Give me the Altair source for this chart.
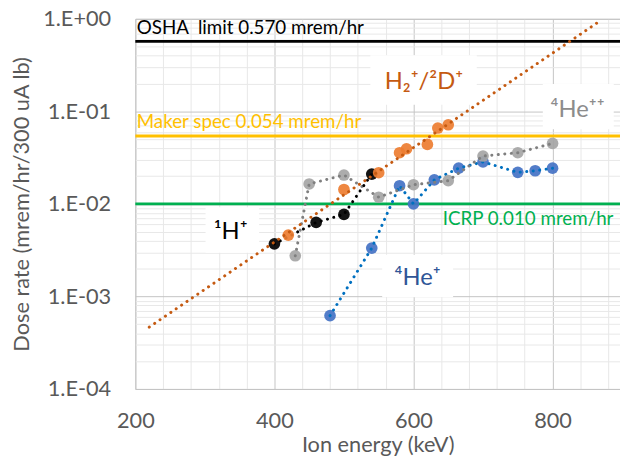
import altair as alt
import pandas as pd

# ---------------- data ----------------
h1_energy = [400, 460, 500, 540]
h1_dose = [0.0037, 0.0063, 0.0077, 0.021]

h2_energy = [420, 500, 550, 580, 590, 620, 635, 650]
h2_dose = [0.0046, 0.0143, 0.0217, 0.0357, 0.0394, 0.0439, 0.066, 0.0716]

he2_energy = [430, 450, 500, 550, 600, 650, 700, 750, 800]
he2_dose = [0.00275, 0.0164, 0.0205, 0.0118, 0.0161, 0.0178, 0.0329, 0.0357, 0.045]

he1_energy = [480, 540, 580, 600, 630, 665, 700, 750, 775, 800]
he1_dose = [0.00062, 0.00333, 0.0157, 0.0100, 0.0182, 0.0243, 0.0284, 0.0219, 0.0228, 0.0243]

# exponential trendline of the H2+/2D+ series (end points)
trend_energy = [220, 870]
trend_dose = [0.000466, 0.968]

limit_names = ["OSHA\u00a0 limit 0.570 mrem/hr", "Maker spec 0.054 mrem/hr", "ICRP 0.010 mrem/hr"]
limit_values = [0.570, 0.054, 0.010]
limit_colors = ["#000000", "#FFC000", "#00B050"]
limit_label_x = [202, 202, 642]
limit_label_y = [0.80, 0.0775, 0.0068]

series_labels = ["H\u2082\u207a/\u00b2D\u207a", "\u2074He\u207a\u207a", "\u00b9H\u207a", "\u2074He\u207a"]
label_colors = ["#C55A11", "#8C8C8C", "#000000", "#2F5597"]
label_x = [615, 836, 337, 606]
label_y = [0.208, 0.1044, 0.00497, 0.00157]
box_x = [538, 786, 301, 555]
box_x2 = [691, 888, 378, 657]
box_y = [0.403, 0.198, 0.00918, 0.00282]
box_y2 = [0.118, 0.0639, 0.00296, 0.000982]

x_ticks = list(range(200, 897, 40))
x_major = [200, 400, 600, 800]
y_major = [0.0001, 0.001, 0.01, 0.1, 1]
y_major_labels = ["1.E-04", "1.E-03", "1.E-02", "1.E-01", "1.E+00"]
y_ticks = [m * k for m in y_major[:-1] for k in range(1, 10)] + [1]

FONT = "Lato, 'Noto Sans', 'DejaVu Sans'"
AXC = "#595959"

# ---------------- scales & axes ----------------
xscale = alt.Scale(domain=[200, 897], nice=False, zero=False)
yscale = alt.Scale(type="log", domain=[0.0001, 1], nice=False)

x_major_test = " || ".join(f"datum.value == {v}" for v in x_major)
y_major_test = " || ".join(f"datum.value == {v!r}" for v in y_major)
y_label_expr = " : ".join(f"datum.value == {v!r} ? '{l}'" for v, l in zip(y_major, y_major_labels)) + " : ''"

xaxis = alt.Axis(
    values=x_ticks, labelExpr=f"({x_major_test}) ? datum.label : ''", format="d",
    grid=True, gridColor={"condition": {"test": x_major_test, "value": "#C4C4C4"}, "value": "#E8E8E8"},
    gridWidth=1, ticks=False, tickSize=0, domain=False, labelFlush=False, labelOverlap=False,
    labelFont=FONT, labelFontSize=22, labelColor=AXC, labelPadding=32, labelBaseline="middle",
    title="Ion energy (keV)", titleFont=FONT, titleFontSize=22, titleFontWeight="normal",
    titleColor=AXC, titleY=56, titleBaseline="middle",
)
yaxis = alt.Axis(
    values=y_ticks, labelExpr=y_label_expr,
    grid=True, gridColor={"condition": {"test": y_major_test, "value": "#C4C4C4"}, "value": "#E8E8E8"},
    gridWidth=1, ticks=False, tickSize=0, domain=False, labelOverlap=False, labelFlush=False,
    labelFont=FONT, labelFontSize=22, labelColor=AXC, labelPadding=25,
    title="Dose rate (mrem/hr/300 uA lb)", titleFont=FONT, titleFontSize=22, titleFontWeight="normal",
    titleColor=AXC, titleX=-115, titleBaseline="middle",
)


def X(field="x"):
    return alt.X(f"{field}:Q", scale=xscale, axis=xaxis)


def Y(field="y"):
    return alt.Y(f"{field}:Q", scale=yscale, axis=yaxis)


# ---------------- tables ----------------
boxes = pd.DataFrame({"x": box_x, "x2": box_x2, "y": box_y, "y2": box_y2})
labels = pd.DataFrame({"x": label_x, "y": label_y, "text": series_labels, "color": label_colors})
limits = pd.DataFrame({"y": limit_values, "color": limit_colors})
limit_text = pd.DataFrame({"x": limit_label_x, "y": limit_label_y, "text": limit_names, "color": limit_colors})
trend = pd.DataFrame({"x": trend_energy, "y": trend_dose})

series = [
    ("he1", he1_energy, he1_dose, "#4472C4", "#0070C0"),
    ("he2", he2_energy, he2_dose, "#A5A5A5", "#7F7F7F"),
    ("h1", h1_energy, h1_dose, "#000000", "#000000"),
    ("h2", h2_energy, h2_dose, "#ED7D31", None),
]

layers = []
layers.append(
    alt.Chart(boxes).mark_rect(color="white").encode(x=X(), x2="x2:Q", y=Y(), y2="y2:Q")
)
layers.append(
    alt.Chart(limits).mark_rule(strokeWidth=3).encode(y=Y(), color=alt.Color("color:N", scale=None))
)
layers.append(
    alt.Chart(limit_text).mark_text(align="left", baseline="middle", font=FONT, fontSize=19).encode(
        x=X(), y=Y(), text="text:N", color=alt.Color("color:N", scale=None))
)
for name, ex, dy, mcol, lcol in series:
    df = pd.DataFrame({"x": ex, "y": dy})
    layers.append(
        alt.Chart(df).mark_circle(size=140, opacity=0.92, color=mcol).encode(x=X(), y=Y())
    )
    if lcol is not None:
        layers.append(
            alt.Chart(df).mark_line(color=lcol, strokeWidth=3, strokeDash=[0.1, 6.5],
                                    strokeCap="round").encode(x=X(), y=Y(), order="x:Q")
        )
layers.append(
    alt.Chart(trend).mark_line(color="#C55A11", strokeWidth=3, strokeDash=[0.1, 6.5],
                               strokeCap="round").encode(x=X(), y=Y())
)
layers.append(
    alt.Chart(labels).mark_text(align="center", baseline="middle", font=FONT, fontSize=24).encode(
        x=X(), y=Y(), text="text:N", color=alt.Color("color:N", scale=None))
)

chart = alt.layer(*layers).properties(
    width=491, height=375,
    autosize=alt.AutoSizeParams(type="none"),
    padding={"left": 129, "top": 8, "right": 0, "bottom": 66},
).configure_view(stroke="#C8C8C8", strokeWidth=1)

chart.save("out.html", embed_options={"renderer": "svg", "actions": False})
